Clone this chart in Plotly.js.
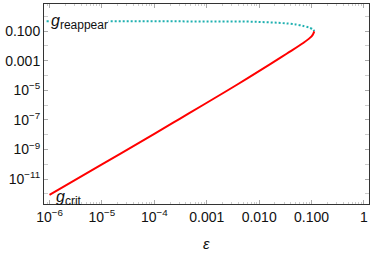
<!DOCTYPE html>
<html>
<head>
<meta charset="utf-8">
<script src="https://cdn.plot.ly/plotly-3.0.1.min.js"></script>
<style>html,body{margin:0;padding:0;background:#fff;}#chart{width:374px;height:255px;}</style>
</head>
<body>
<div id="chart"></div>
<script>
// g_crit branch (lower, solid red)
var critEps = [1e-6, 1e-5, 1e-4, 3.05e-4, 8.5e-4, 3.7e-3, 0.016, 0.0334, 0.0692, 0.1, 0.108, 0.1125];
var critG   = [8.5e-13, 9.8e-11, 1.15e-8, 1.19e-7, 1.02e-6, 2.30e-5, 5.69e-4, 2.97e-3, 0.0158, 0.0444, 0.068, 0.097];
// g_reappear branch (upper, dotted teal)
var reapEps = [8.8e-7, 1e-5, 1e-4, 1e-3, 0.01, 0.0517, 0.093, 0.108, 0.1125];
var reapG   = [0.46, 0.46, 0.459, 0.452, 0.42, 0.277, 0.165, 0.125, 0.097];
// ticks
var xTickVals = [1e-6, 1e-5, 1e-4, 1e-3, 1e-2, 1e-1, 1];
var xTickText = ["10<sup>−6</sup>", "10<sup>−5</sup>", "10<sup>−4</sup>", "0.001", "0.010", "0.100", "1"];
var yTickVals = [1e-11, 1e-9, 1e-7, 1e-5, 1e-3, 1e-1];
var yTickText = ["10<sup>−11</sup>", "10<sup>−9</sup>", "10<sup>−7</sup>", "10<sup>−5</sup>", "0.001", "0.100"];
var yMinorVals = [1e-12, 1e-10, 1e-8, 1e-6, 1e-4, 1e-2, 1];
var xMinorMult = [2, 3, 4, 5, 6, 7, 8, 9];
var xMinorDecades = [1e-7, 1e-6, 1e-5, 1e-4, 1e-3, 1e-2, 1e-1, 1];

var xMinorVals = [];
xMinorDecades.forEach(function (d) { xMinorMult.forEach(function (m) { xMinorVals.push(d * m); }); });

var font = "Liberation Sans, Arial, sans-serif";
var traces = [
  {x: reapEps, y: reapG, mode: "lines", line: {color: "#1fb0b0", width: 2, dash: "2px,2px", shape: "spline"}, hoverinfo: "skip"},
  {x: critEps, y: critG, mode: "lines", line: {color: "#ff0000", width: 2, shape: "spline"}, hoverinfo: "skip"}
];
var axisCommon = {
  type: "log", showgrid: false, zeroline: false, showline: true, mirror: "ticks",
  linecolor: "#333", linewidth: 1, ticks: "inside", ticklen: 4, tickcolor: "#aaa",
  tickfont: {family: font, size: 14, color: "#111"}, tickmode: "array"
};
var layout = {
  width: 374, height: 255,
  margin: {l: 44, r: 5, t: 4, b: 51, pad: 0},
  paper_bgcolor: "#fff", plot_bgcolor: "#fff",
  showlegend: false,
  xaxis: Object.assign({}, axisCommon, {range: [-6.105, 0.096], tickvals: xTickVals, ticktext: xTickText,
    minor: {tickmode: "array", tickvals: xMinorVals, ticks: "inside", ticklen: 2, tickcolor: "#ccc", showgrid: false}}),
  yaxis: Object.assign({}, axisCommon, {range: [-12.68, 0.834], tickvals: yTickVals, ticktext: yTickText,
    minor: {tickmode: "array", tickvals: yMinorVals, ticks: "inside", ticklen: 4, tickcolor: "#ccc", showgrid: false}}),
  annotations: [
    {xref: "paper", yref: "paper", x: 0.5, y: -0.198, xanchor: "center", yanchor: "middle",
     text: "<i>ε</i>", showarrow: false, font: {family: font, size: 15, color: "#111"}},
    {xref: "paper", yref: "paper", x: 0.018, y: 0.912, xanchor: "left", yanchor: "middle",
     text: "<i>g</i><sub><span style=\"font-size:12px\">reappear</span></sub>", showarrow: false,
     bgcolor: "#fff", borderpad: 0, font: {family: font, size: 16, color: "#111"}},
    {xref: "paper", yref: "paper", x: 0.035, y: 0.028, xanchor: "left", yanchor: "middle",
     text: "<i>g</i><sub><span style=\"font-size:12px\">crit</span></sub>", showarrow: false,
     borderpad: 0, font: {family: font, size: 16, color: "#111"}}
  ]
};
Plotly.newPlot("chart", traces, layout, {staticPlot: true, displayModeBar: false});
</script>
</body>
</html>
